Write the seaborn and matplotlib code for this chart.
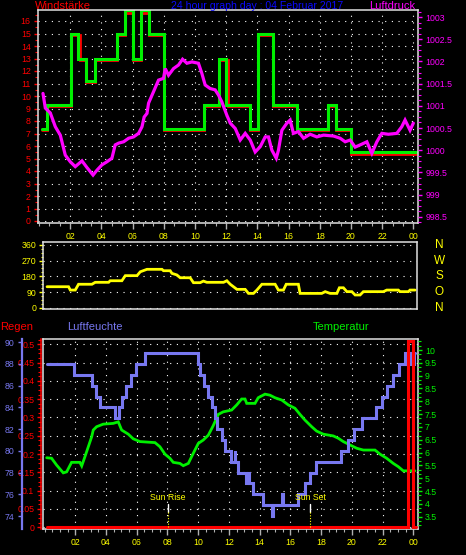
import matplotlib
matplotlib.use("Agg")
import matplotlib.pyplot as plt
import seaborn as sns
from matplotlib.ticker import MultipleLocator, AutoMinorLocator, FuncFormatter

# ---------------- data (time axis in hours since midnight) ----------------
hour_ticks = [2, 4, 6, 8, 10, 12, 14, 16, 18, 20, 22, 24]
hour_labels = ['02', '04', '06', '08', '10', '12', '14', '16', '18', '20', '22', '00']

# wind speed (Windstaerke), step line
wind_t = [0.16, 0.5, 2.06, 2.5, 3.03, 3.56, 5.0, 5.48, 6.02, 6.53, 7.02, 7.98,
          10.55, 11.55, 12.0, 13.54, 14.07, 15.03, 16.53, 18.56, 19.03, 20.01, 24.16]
wind_v = [7.4, 9.3, 15, 13, 11.2, 13, 15, 16.85, 13, 16.85, 15, 7.4,
          9.3, 13, 9.3, 7.4, 15, 9.3, 7.4, 9.3, 7.4, 5.5, 5.5]
# gusts, drawn underneath in red
gust_t = [0.16, 0.5, 2.06, 2.62, 3.03, 3.56, 5.0, 5.48, 6.02, 6.53, 7.02, 7.98,
          10.55, 11.55, 12.1, 13.54, 14.07, 15.03, 16.53, 18.56, 19.03, 20.01, 24.16]
gust_v = [7.3, 9.2, 14.9, 12.9, 11.1, 12.9, 14.85, 16.6, 12.9, 16.6, 14.85, 7.3,
          9.2, 12.9, 9.2, 7.3, 14.85, 9.2, 7.3, 9.2, 7.3, 5.4, 5.4]

# air pressure (Luftdruck) hPa
press_t = [0.25, 0.40, 0.72, 1.04, 1.36, 1.68, 2.0, 2.32, 2.75, 3.07, 3.46, 3.71,
           4.03, 4.35, 4.67, 4.88, 5.10, 5.42, 5.74, 6.06, 6.38, 6.60, 6.74, 6.92,
           7.02, 7.34, 7.66, 7.98, 8.09, 8.30, 8.62, 8.94, 9.20, 9.48, 9.80, 10.22,
           10.44, 10.65, 10.97, 11.29, 11.51, 11.72, 12.04, 12.26, 12.58, 12.90, 13.22, 13.54,
           13.86, 14.18, 14.50, 14.71, 14.93, 15.21, 15.35, 15.57, 15.89, 16.10, 16.31, 16.63,
           16.96, 17.38, 17.81, 18.24, 18.88, 19.31, 19.63, 19.95, 20.27, 20.59, 21.02, 21.34,
           21.66, 21.98, 22.40, 22.94, 23.26, 23.47, 23.79, 24.0]
press_v = [1001.28, 1000.95, 1000.84, 1000.53, 1000.34, 999.89, 999.74, 999.63, 999.76, 999.61, 999.44, 999.55,
           999.67, 999.74, 999.82, 1000.12, 1000.16, 1000.19, 1000.27, 1000.30, 1000.38, 1000.53, 1000.75, 1000.83,
           1001.06, 1001.32, 1001.58, 1001.62, 1001.84, 1001.69, 1001.84, 1001.92, 1002.05, 1001.96, 1001.99, 1001.96,
           1001.73, 1001.47, 1001.39, 1001.36, 1001.24, 1001.09, 1000.79, 1000.61, 1000.49, 1000.23, 1000.38, 1000.23,
           999.96, 1000.08, 1000.30, 1000.30, 1000.0, 999.82, 1000.0, 1000.45, 1000.61, 1000.68, 1000.38, 1000.42,
           1000.27, 1000.36, 1000.30, 1000.34, 1000.32, 1000.27, 1000.19, 1000.23, 1000.07, 1000.12, 1000.19, 999.93,
           1000.19, 1000.38, 1000.36, 1000.38, 1000.53, 1000.68, 1000.45, 1000.61]

# wind direction (degrees)
dir_t = [0.51, 1.89, 2.0, 2.32, 2.53, 3.39, 3.60, 4.46, 4.56, 5.31, 5.53, 6.28, 6.49, 6.92,
         7.88, 7.98, 8.41, 8.52, 8.84, 9.05, 9.69, 9.90, 10.33, 10.54, 10.76, 11.83, 12.04,
         12.26, 12.69, 13.22, 13.43, 13.75, 13.97, 14.29, 15.14, 15.35, 15.67, 15.85, 16.63,
         16.74, 18.13, 18.35, 18.67, 19.10, 19.26, 19.52, 19.74, 20.06, 20.27, 20.59, 20.80,
         22.08, 22.30, 23.04, 23.15, 23.69, 23.79, 24.12]
dir_v = [121, 121, 102, 102, 135, 135, 146, 146, 155, 155, 184, 184, 206, 220,
         220, 212, 212, 197, 188, 172, 172, 144, 144, 153, 146, 146, 155,
         135, 106, 106, 83, 83, 102, 135, 135, 102, 102, 135, 135,
         83, 83, 93, 83, 83, 115, 115, 93, 93, 74, 74, 93,
         93, 102, 102, 93, 93, 102, 102]
compass_labels = ['N', 'W', 'S', 'O', 'N']
compass_deg = [360, 270, 180, 90, 0]

# humidity (Luftfeuchte) %, step line
hum_t = [0.14, 1.9, 3.1, 3.35, 3.6, 4.6, 4.85, 5.02, 5.3, 5.6, 5.95, 6.55,
         10.0, 10.12, 10.38, 10.66, 10.92, 11.09, 11.2, 11.53, 11.74, 12.12, 12.38, 12.42,
         12.61, 13.11, 13.24, 13.28, 13.59, 14.24, 14.79, 14.87, 15.48, 15.52,
         16.52, 16.95, 17.28, 17.67, 19.3, 19.77, 20.12, 20.64, 21.58, 21.99, 22.27, 22.7, 23.1,
         23.46, 23.52, 23.58, 23.64, 23.7, 23.76, 23.82, 23.88, 23.94, 24.0, 24.06, 24.11]
hum_v = [88, 87, 86, 85, 84, 83, 84, 85, 86, 87, 88, 89,
         88, 87, 86, 85, 84, 83, 82, 81, 80, 79, 80, 79,
         78, 77, 78, 77, 76, 75, 74, 75, 76, 75,
         76, 77, 78, 79, 80, 81, 82, 83, 84, 85, 86, 87, 88,
         89, 88, 89, 88, 89, 88, 89, 88, 89, 88, 89, 89]

# temperature (Temperatur) deg C
temp_t = [0.14, 0.46, 0.79, 1.22, 1.44, 1.76, 2.30, 2.42, 2.63, 2.85, 3.07, 3.17, 3.39, 3.82,
          4.47, 4.80, 5.02, 5.45, 5.77, 6.21, 7.19, 7.51, 7.84, 8.16, 8.38, 8.81, 9.03, 9.36,
          9.68, 10.01, 10.33, 10.66, 10.98, 11.31, 11.63, 12.18, 12.51, 12.83, 13.05, 13.16,
          13.70, 13.91, 14.35, 14.67, 15.0, 15.44, 15.87, 16.30, 16.63, 16.95, 17.39, 17.71,
          18.14, 18.80, 19.12, 19.45, 19.88, 20.32, 20.75, 21.51, 21.84, 22.27, 22.70, 23.03,
          23.35, 24.11]
temp_v = [5.8, 5.78, 5.51, 5.21, 5.25, 5.62, 5.62, 5.48, 5.84, 6.23, 6.62, 6.88, 7.01, 7.11,
          7.14, 7.2, 6.88, 6.72, 6.54, 6.43, 6.39, 6.23, 5.94, 5.78, 5.62, 5.58, 5.49, 5.58,
          5.97, 6.36, 6.49, 6.68, 7.05, 7.49, 7.59, 7.66, 7.86, 8.09, 8.09, 7.92,
          7.92, 8.14, 8.28, 8.24, 8.14, 8.05, 7.86, 7.73, 7.49, 7.27, 7.01, 6.84,
          6.72, 6.65, 6.56, 6.43, 6.3, 6.17, 6.10, 6.10, 5.94, 5.78, 5.58, 5.45,
          5.29, 5.29]

# rain (Regen) mm, step line
rain_t = [0.14, 23.66, 23.96, 24.18]
rain_v = [0, 0.51, 0, 0]

sun_labels = ['Sun Rise', 'Sun Set']
sun_t = [8.05, 17.3]

# ---------------- style ----------------
W, H = 466, 555
sns.set_style('dark')
plt.rcParams['font.family'] = ['Liberation Sans', 'DejaVu Sans']

RED, GREEN, MAG, YEL = '#ff0000', '#00f000', '#ff00ff', '#ffff00'
VIOLET, BLUE, FRAME = '#7878f0', '#0a0aff', '#e0e0e0'
DOTS = dict(color='white', linestyle=(0, (1, 5)), linewidth=0.8)
TS = 6.3
gfmt = FuncFormatter(lambda v, p: '{:g}'.format(round(v, 3)))

fig = plt.figure(figsize=(W / 100, H / 100), dpi=100, facecolor='black')


def box(l, t, r, b):
    return [l / W, 1 - b / H, (r - l) / W, (b - t) / H]


def frame(ax):
    ax.set_facecolor('black')
    for s in ax.spines.values():
        s.set_color(FRAME)
        s.set_linewidth(1.1)


def hide(ax):
    for s in ax.spines.values():
        s.set_visible(False)
    ax.grid(False)


def line(ax, x, y, color, lw, steps=False):
    kw = dict(drawstyle='steps-post') if steps else {}
    sns.lineplot(x=x, y=y, ax=ax, color=color, linewidth=lw, estimator=None,
                 sort=False, solid_joinstyle='miter', **kw)


# ---------------- top panel: wind speed + pressure ----------------
ax1 = fig.add_axes(box(38, 10, 418, 223))
frame(ax1)
ax1.set_xlim(-0.07, 24.30)
ax1.set_ylim(-0.16, 16.88)
ax1.yaxis.set_major_locator(MultipleLocator(1))
ax1.yaxis.set_minor_locator(MultipleLocator(0.5))
ax1.set_xticks(hour_ticks)
ax1.set_xticklabels(hour_labels)
ax1.xaxis.set_minor_locator(MultipleLocator(2 / 3))
ax1.grid(True, which='major', **DOTS)
ax1.tick_params(axis='y', which='both', left=True, colors=RED, labelsize=TS, pad=2.2)
ax1.tick_params(axis='y', which='major', length=3, width=1)
ax1.tick_params(axis='y', which='minor', length=2, width=0.8)
ax1.tick_params(axis='x', which='both', bottom=True, color='#b0b0b0', labelcolor=YEL,
                labelsize=TS, pad=2.2)
ax1.tick_params(axis='x', which='major', length=4, width=1)
ax1.tick_params(axis='x', which='minor', length=2, width=0.8)
line(ax1, gust_t, gust_v, RED, 2.0, steps=True)
line(ax1, wind_t, wind_v, GREEN, 2.2, steps=True)

ax1r = ax1.twinx()
hide(ax1r)
ax1r.set_ylim(998.36, 1003.16)
ax1r.yaxis.set_major_locator(MultipleLocator(0.5))
ax1r.yaxis.set_minor_locator(MultipleLocator(0.125))
ax1r.yaxis.set_major_formatter(gfmt)
ax1r.tick_params(axis='y', which='both', right=True, colors=MAG, labelsize=TS, pad=2.2)
ax1r.tick_params(axis='y', which='major', length=3, width=1)
ax1r.tick_params(axis='y', which='minor', length=2, width=0.8)
line(ax1r, press_t, press_v, MAG, 2.3)

fig.text(35 / W, 1 - 6 / H, 'Windstärke', color=RED, fontsize=8, ha='left', va='center')
fig.text(257 / W, 1 - 6 / H, '24 hour graph day : 04 Februar 2017', color=BLUE,
         fontsize=7.6, ha='center', va='center')
fig.text(415 / W, 1 - 6 / H, 'Luftdruck', color=MAG, fontsize=8, ha='right', va='center')

# ---------------- middle panel: wind direction ----------------
ax2 = fig.add_axes(box(43.3, 241.7, 416.7, 309.3))
frame(ax2)
ax2.set_xlim(0.27, 24.22)
ax2.set_ylim(-7.4, 377)
ax2.set_yticks([0, 90, 180, 270, 360])
ax2.yaxis.set_minor_locator(AutoMinorLocator(4))
ax2.set_xticks([])
ax2.grid(True, axis='y', which='major', **DOTS)
ax2.tick_params(axis='y', which='both', left=True, colors=YEL, labelsize=TS, pad=2.2)
ax2.tick_params(axis='y', which='major', length=3, width=1)
ax2.tick_params(axis='y', which='minor', length=1.5, width=0.8)
line(ax2, dir_t, dir_v, YEL, 2.0)
for lab, deg in zip(compass_labels, compass_deg):
    ax2.text(1.06, deg, lab, transform=ax2.get_yaxis_transform(), color=YEL,
             fontsize=8.5, ha='center', va='center')

# ---------------- bottom panel: rain, humidity, temperature ----------------
ax3 = fig.add_axes(box(43.3, 339, 417.7, 529.3))
frame(ax3)
ax3.set_xlim(-0.08, 24.29)
ax3.set_ylim(-0.0055, 0.5145)
ax3.yaxis.set_major_locator(MultipleLocator(0.05))
ax3.yaxis.set_minor_locator(AutoMinorLocator(4))
ax3.yaxis.set_major_formatter(gfmt)
ax3.set_xticks(hour_ticks)
ax3.set_xticklabels(hour_labels)
ax3.xaxis.set_minor_locator(MultipleLocator(0.5))
ax3.grid(True, which='major', **DOTS)
ax3.spines['left'].set_color(RED)
ax3.spines['left'].set_position(('outward', 1.3))
ax3.tick_params(axis='y', which='both', left=True, colors=RED, labelsize=TS, pad=2.2)
ax3.tick_params(axis='y', which='major', length=3, width=1)
ax3.tick_params(axis='y', which='minor', length=2, width=0.8)
ax3.tick_params(axis='x', which='both', bottom=True, color='#b0b0b0', labelcolor=YEL,
                labelsize=TS, pad=2.6)
ax3.tick_params(axis='x', which='major', length=4, width=1)
ax3.tick_params(axis='x', which='minor', length=2, width=0.8)

# temperature (right axis, drawn lowest)
ax3t = ax3.twinx()
hide(ax3t)
ax3t.spines['left'].set_visible(True)
ax3t.spines['left'].set_color(FRAME)
ax3t.spines['left'].set_linewidth(1.1)
ax3t.set_ylim(3.01, 10.43)
ax3t.yaxis.set_major_locator(MultipleLocator(0.5))
ax3t.yaxis.set_minor_locator(AutoMinorLocator(3))
ax3t.yaxis.set_major_formatter(gfmt)
ax3t.tick_params(axis='y', which='both', right=True, colors=GREEN, labelsize=TS, pad=2.2)
ax3t.tick_params(axis='y', which='major', length=3, width=1)
ax3t.tick_params(axis='y', which='minor', length=2, width=0.8)
line(ax3t, temp_t, temp_v, GREEN, 2.0)

# humidity (far left axis)
ax3h = ax3.twinx()
hide(ax3h)
ax3h.yaxis.set_ticks_position('left')
ax3h.spines['left'].set_visible(True)
ax3h.spines['left'].set_position(('axes', -0.0577))
ax3h.spines['left'].set_color(VIOLET)
ax3h.spines['left'].set_linewidth(1.6)
ax3h.set_ylim(72.78, 90.3)
ax3h.yaxis.set_major_locator(MultipleLocator(2))
ax3h.tick_params(axis='y', which='major', left=True, right=False, labelleft=True,
                 labelright=False, colors=VIOLET, labelsize=TS, length=3, width=1, pad=2.2)
line(ax3h, hum_t, hum_v, VIOLET, 2.2, steps=True)

# rain on top of everything
ax3r = ax3.twinx()
hide(ax3r)
ax3r.set_ylim(ax3.get_ylim())
ax3r.set_yticks([])
line(ax3r, rain_t, rain_v, RED, 2.2, steps=True)
for lab, t in zip(sun_labels, sun_t):
    ax3r.axvline(t, ymin=0.091, ymax=0.133, color='white', linewidth=1)
    ax3r.axvline(t, ymin=0.012, ymax=0.091, color=YEL, linewidth=0.8, linestyle=(0, (1, 1.5)))
    ax3r.text(t, 0.166, lab, transform=ax3r.get_xaxis_transform(), color=YEL,
              fontsize=TS, ha='center', va='center')

for a in (ax1, ax1r, ax2, ax3, ax3t, ax3h, ax3r):
    a.set_xlabel('')
    a.set_ylabel('')

fig.text(0 / W, 1 - 326.7 / H, 'Regen', color=RED, fontsize=8, ha='left', va='center')
fig.text(67 / W, 1 - 326.7 / H, 'Luftfeuchte', color=VIOLET, fontsize=8, ha='left', va='center')
fig.text(313 / W, 1 - 326.7 / H, 'Temperatur', color=GREEN, fontsize=8, ha='left', va='center')

fig.savefig('out.png', dpi=100, facecolor='black')
